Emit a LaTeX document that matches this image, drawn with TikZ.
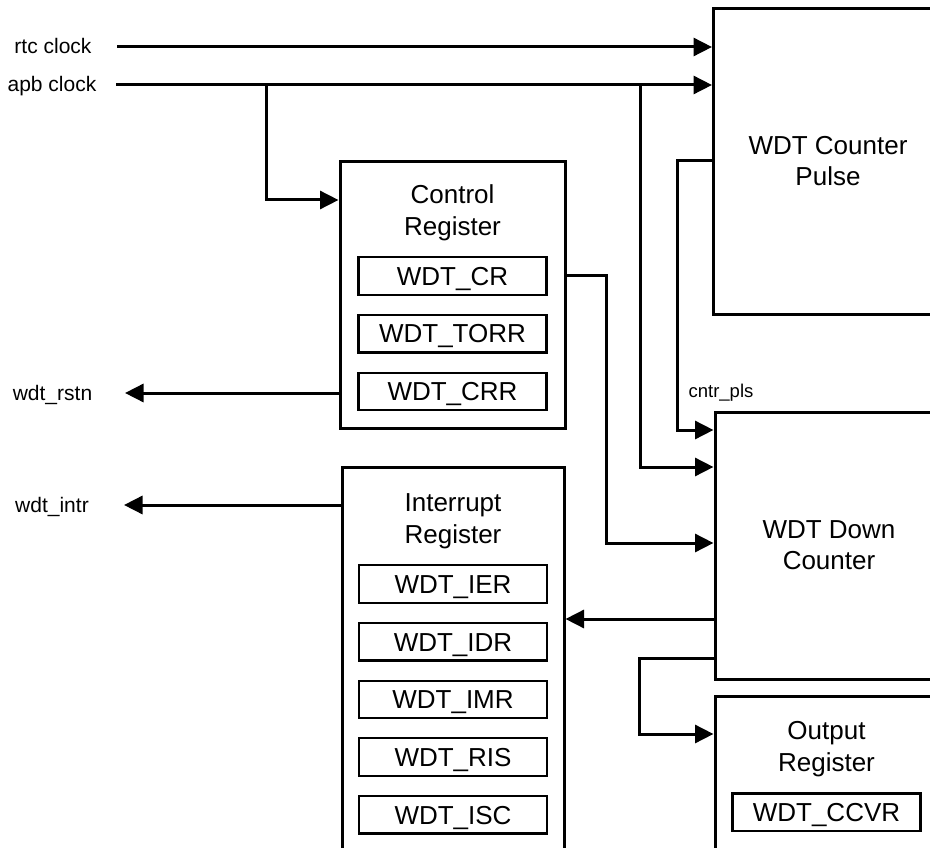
\documentclass[tikz,border=0pt]{standalone}
\usepackage{fontspec}
\setmainfont{Liberation Sans}
\usetikzlibrary{arrows.meta, positioning}

\begin{document}
\begin{tikzpicture}[
    x=1pt, y=-1pt,
    node distance=18pt,
    blk/.style={draw, line width=3pt, inner sep=0pt, align=center,
                font=\fontsize{26}{31}\selectfont},
    ttl/.style={inner sep=0pt, align=center, font=\fontsize{26}{32}\selectfont},
    reg/.style={draw, line width=2.2pt, minimum width=188pt, minimum height=37.5pt,
                inner sep=0pt, text height=18.6pt, text depth=0pt,
                font=\fontsize{26}{31}\selectfont},
    sig/.style={font=\fontsize{21}{25}\selectfont, text height=15pt, text depth=0pt},
    wire/.style={line width=3pt},
    arr/.style={wire, -{Triangle[length=18.5pt, width=18pt]}},
]
\useasboundingbox (0,0) rectangle (930,848);
\clip (0,0) rectangle (930,848);

% Main blocks
\node[blk, minimum width=229pt, minimum height=305pt] (pulse)  at (828,161.5) {WDT Counter\\Pulse};
\node[blk, minimum width=228pt, minimum height=267pt] (cnt)    at (829,545.5) {WDT Down\\Counter};
\node[blk, minimum width=225pt, minimum height=266pt] (ctrl)   at (452.5,295) {};
\node[blk, minimum width=222pt, minimum height=385pt] (irq)    at (453,659.5) {};
\node[blk, minimum width=223pt, minimum height=156pt] (outreg) at (826.5,774) {};

% Control register
\node[ttl, below=24pt of ctrl.north] (ctrlttl) {Control\\Register};
\node[reg, below=15pt of ctrlttl] (cr)   {WDT\_CR};
\node[reg, below=of cr]           (torr) {WDT\_TORR};
\node[reg, below=of torr]         (crr)  {WDT\_CRR};

% Interrupt register
\node[ttl, below=28pt of irq.north] (irqttl) {Interrupt\\Register};
\node[reg, below=15pt of irqttl] (ier) {WDT\_IER};
\node[reg, below=of ier]         (idr) {WDT\_IDR};
\node[reg, below=of idr]         (imr) {WDT\_IMR};
\node[reg, below=of imr]         (ris) {WDT\_RIS};
\node[reg, below=of ris]         (isc) {WDT\_ISC};

% Output register
\node[ttl, below=27pt of outreg.north] (outttl) {Output\\Register};
\node[reg, below=15pt of outttl] (ccvr) {WDT\_CCVR};

% Signal names
\node[sig] (rtclbl)  at (53,46)  {rtc clock};
\node[sig] (apblbl)  at (52,84)  {apb clock};
\node[sig] (rstnlbl) at (52.5,393) {wdt\_rstn};
\node[sig] (intrlbl) at (52,505) {wdt\_intr};
\node[sig, font=\fontsize{18.5}{22}\selectfont, text height=13pt] (plslbl) at (721,391) {cntr\_pls};

% Free ends and branch points
\coordinate (rtcin)   at (117,47);
\coordinate (apbin)   at (116,85);
\coordinate (apbj1)   at (266,85);
\coordinate (apbj2)   at (640,85);
\coordinate (rstnout) at (125,393);
\coordinate (introut) at (124,505);

% Wires
\draw[arr] (rtcin) -- (rtcin -| pulse.west);
\draw[arr] (apbin) -- (apbin -| pulse.west);
\draw[arr] (apbj1) |- (ctrl.west |- 0,200);
\draw[arr] (apbj2) |- (cnt.west |- 0,467);
\draw[arr] (pulse.west |- 0,160.5) -| (677,430) -- (cnt.west |- 0,430);
\draw[arr] (ctrl.east |- cr) -| (606,543) -- (cnt.west |- 0,543);
\draw[arr] (ctrl.west |- 0,393) -- (rstnout);
\draw[arr] (irq.west |- 0,505) -- (introut);
\draw[arr] (cnt.west |- 0,619) -- (irq.east |- 0,619);
\draw[arr] (cnt.west |- 0,658) -| (639,734) -- (outreg.west |- 0,734);
\end{tikzpicture}
\end{document}
